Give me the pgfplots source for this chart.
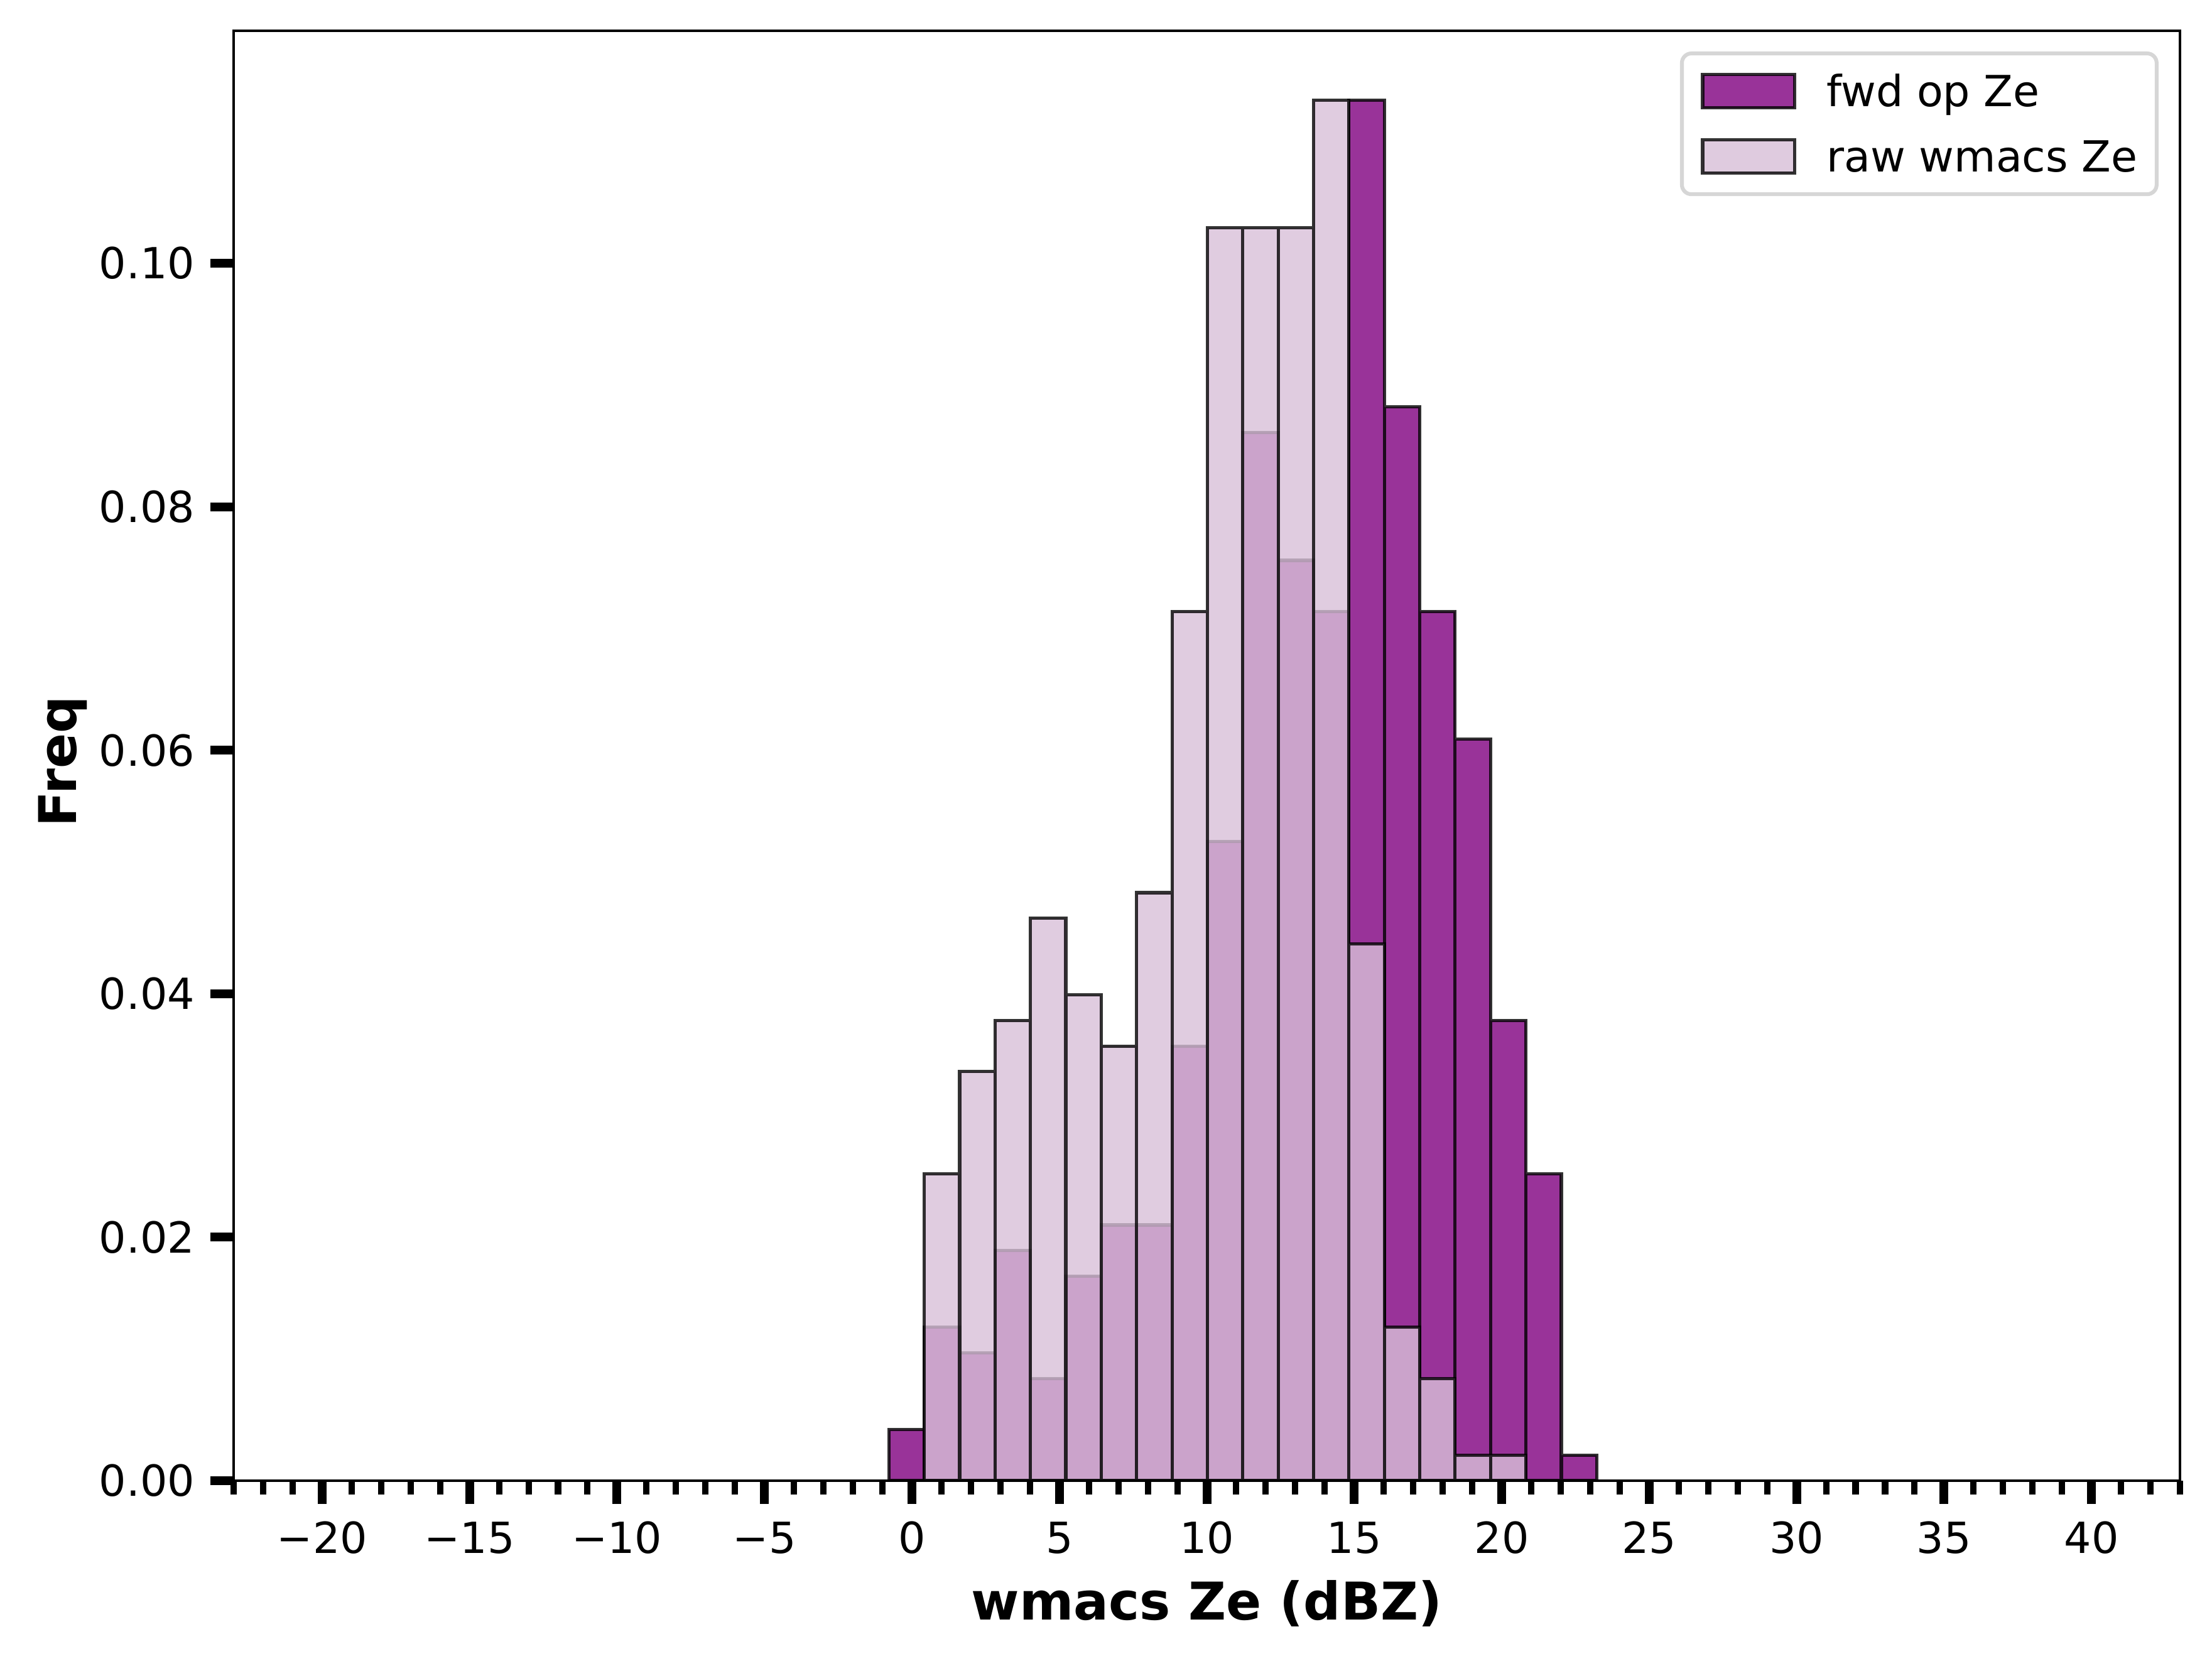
\documentclass[border=0pt]{standalone}
\usepackage{fontspec}
\setmainfont{DejaVu Sans}
\usepackage{pgfplots}
\pgfplotsset{compat=1.18}
\definecolor{fwdc}{RGB}{128,0,128}
\definecolor{rawc}{RGB}{216,191,216}
\definecolor{legframe}{RGB}{214,214,214}
\pgfplotsset{rectleg/.style={legend image code/.code={\draw[##1, line width=0.85pt, sharp corners] (0pt,-4.35pt) rectangle (24pt,4.35pt);}}}
\begin{document}
\begin{tikzpicture}
\begin{axis}[
  at={(0pt,0pt)}, anchor=south west,
  scale only axis, width=508.74pt, height=378.89pt,
  xmin=-23, xmax=43, ymin=0, ymax=0.1191,
  axis on top,
  axis line style={line width=0.8pt, black},
  tick align=outside, xtick pos=left, ytick pos=left,
  xtick={-20,-15,...,40},
  xticklabels={−20,−15,−10,−5,0,5,10,15,20,25,30,35,40},
  minor xtick={-23,-22,...,43},
  ytick={0,0.02,0.04,0.06,0.08,0.10},
  yticklabels={0.00,0.02,0.04,0.06,0.08,0.10},
  major tick length=6pt, minor tick length=3.6pt,
  every major tick/.append style={line width=2.3pt, black},
  every minor tick/.append style={line width=1.65pt, black},
  tick label style={font=\fontsize{11.2}{13.4}\selectfont},
  xticklabel style={anchor=base, inner sep=0pt, yshift=-13pt},
  yticklabel style={anchor=east, inner sep=0pt, xshift=-4pt},
  xlabel={wmacs Ze (dBZ)}, ylabel={Freq},
  every axis x label/.style={at={(axis description cs:0.5,-0.0958)}, anchor=base,
    font=\fontsize{13.6}{16}\selectfont\bfseries},
  every axis y label/.style={at={(axis description cs:-0.081,0.496)}, anchor=base, rotate=90,
    font=\fontsize{13.6}{16}\selectfont\bfseries},
  legend cell align=left,
  legend style={at={(rel axis cs:1,1)}, xshift=-5.6pt, yshift=-5.42pt, anchor=north east,
    draw=legframe, line width=1pt, rounded corners=2.5pt, fill=white,
    inner xsep=5pt, inner ysep=5.1pt, row sep=7.5pt, column sep=8pt,
    font=\fontsize{11.2}{13.4}\selectfont,
    nodes={inner sep=0pt, text height=8.4pt, text depth=0.4pt, anchor=west}},
]
\addplot[ybar interval, fill=fwdc, fill opacity=0.8, draw=black, draw opacity=0.8, line width=0.85pt, rectleg]
coordinates {
(-0.78,0.0042) (0.42,0.0126) (1.62,0.0105) (2.82,0.0189) (4.02,0.0084)
(5.22,0.0168) (6.42,0.0210) (7.62,0.0210) (8.82,0.0357) (10.02,0.0525)
(11.22,0.0861) (12.42,0.0756) (13.62,0.0714) (14.82,0.1134) (16.02,0.0882)
(17.22,0.0714) (18.42,0.0609) (19.62,0.0378) (20.82,0.0252) (22.02,0.0021)
(23.22,0)
};
\addlegendentry{fwd op Ze}
\addplot[ybar interval, fill=rawc, fill opacity=0.8, draw=black, draw opacity=0.8, line width=0.85pt, rectleg]
coordinates {
(0.42,0.0252) (1.62,0.0336) (2.82,0.0378) (4.02,0.0462) (5.22,0.0399)
(6.42,0.0357) (7.62,0.0483) (8.82,0.0714) (10.02,0.1029) (11.22,0.1029)
(12.42,0.1029) (13.62,0.1134) (14.82,0.0441) (16.02,0.0126) (17.22,0.0084)
(18.42,0.0021) (19.62,0.0021) (20.82,0)
};
\addlegendentry{raw wmacs Ze}
\end{axis}
\pgfresetboundingbox
\path[use as bounding box] (-61.07pt,-47.11pt) rectangle (517.11pt,386.93pt);
\end{tikzpicture}
\end{document}
